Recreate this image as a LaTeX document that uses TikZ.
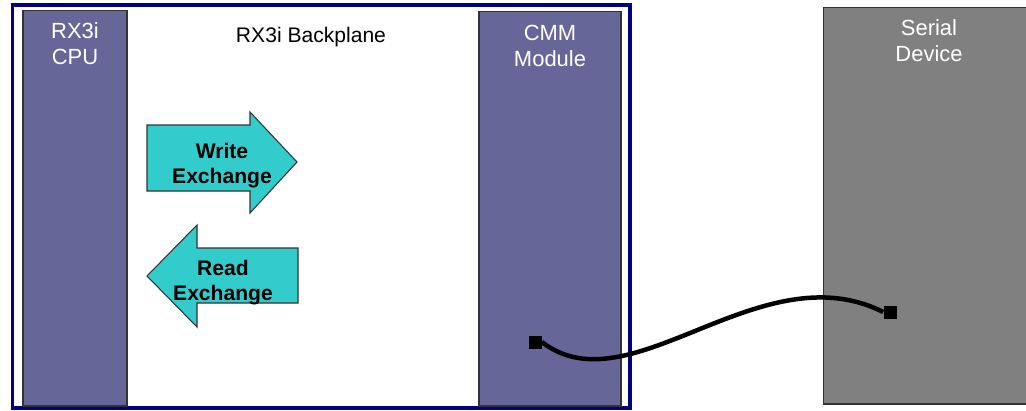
\documentclass[tikz,border=0pt]{standalone}
\usepackage{fontspec}
\setmainfont{Liberation Sans}
\usetikzlibrary{positioning}
\definecolor{modfill}{RGB}{102,102,153}
\definecolor{devfill}{RGB}{128,128,128}
\definecolor{xchfill}{RGB}{51,204,204}
\definecolor{framenavy}{RGB}{0,0,128}
\definecolor{edgegray}{RGB}{51,51,51}
\tikzset{
  module/.style={draw=edgegray, fill=modfill, line width=0.6pt, inner sep=0pt},
  device/.style={draw=edgegray, fill=devfill, line width=0.6pt, inner sep=0pt},
  modlbl/.style={text=white, align=center, inner sep=0pt, font=\fontsize{12.5}{14.9}\selectfont},
  xch/.style={draw=edgegray, fill=xchfill, line width=0.6pt},
  xchlbl/.style={align=center, inner sep=0pt, font=\fontsize{12}{14.2}\selectfont\bfseries},
  plug/.style={fill=black, minimum size=0.26cm, inner sep=0pt},
  cable/.style={line width=0.09cm},
  frm/.style={draw=framenavy, line width=0.08cm},
}

\begin{document}
\begin{tikzpicture}[x=0.02cm, y=-0.02cm]
  \useasboundingbox (0,0) rectangle (1026,410);
  \clip (0,0) rectangle (1026,410);
  \fill[white] (0,0) rectangle (1026,410);
  % backplane frame
  \draw[frm] (12.5,5) rectangle (629.5,408);
  \node[anchor=base, font=\fontsize{12}{14.7}\selectfont] (bptitle) at (311,42.3) {RX3i Backplane};
  % modules
  \node[module, minimum width=2.08cm, minimum height=7.92cm] (cpu) at (75,208) {};
  \node[module, minimum width=2.84cm, minimum height=7.9cm] (cmm) at (550,208.5) {};
  \node[device, minimum width=4.24cm, minimum height=7.94cm] (srl) at (929,205.5) {};
  \node[modlbl, below=0.26cm of cpu.north] (cpulbl) {RX3i\\CPU};
  \node[modlbl, below=0.28cm of cmm.north] (cmmlbl) {CMM\\Module};
  \node[modlbl, below=0.26cm of srl.north] (srllbl) {Serial\\Device};
  % exchange arrows
  \draw[xch] (147,125) -- (250,125) -- (250,112) -- (297,162) -- (250,213)
    -- (250,191) -- (147,191) -- cycle;
  \node[xchlbl, anchor=north] (wrtxt) at (222,143) {Write\\Exchange};
  \draw[xch] (147,276) -- (197,225) -- (197,248) -- (298,248) -- (298,303)
    -- (197,303) -- (197,327) -- cycle;
  \node[xchlbl, anchor=north] (rdtxt) at (223,260) {Read\\Exchange};
  % serial cable
  \node[plug] (cmmplug) at (535,342) {};
  \node[plug] (srlplug) at (890,312) {};
  \draw[cable] (cmmplug.east) .. controls (630,410) and (760,250) .. (srlplug.west);
\end{tikzpicture}
\end{document}
